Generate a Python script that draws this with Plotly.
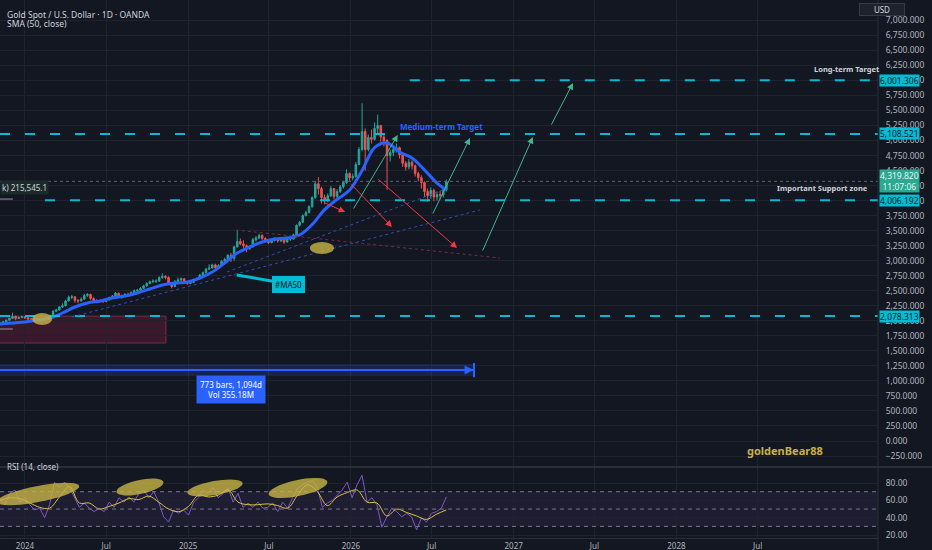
import numpy as np
import pandas as pd
import plotly.graph_objects as go

# weekly candles (Nov 2023 -> Aug 2026)
start_date = '2023-11-06'
first_open = 1950
closes = [1963, 1985, 2010, 2040, 2075, 2040, 2055, 2065, 2050, 2030,
          2025, 2040, 2020, 2030, 2025, 2045, 2090, 2160, 2180, 2230,
          2250, 2330, 2390, 2400, 2340, 2330, 2360, 2420, 2440, 2370,
          2330, 2320, 2330, 2320, 2350, 2390, 2410, 2460, 2400, 2420,
          2440, 2430, 2470, 2500, 2510, 2540, 2580, 2620, 2650, 2660,
          2660, 2720, 2740, 2720, 2620, 2570, 2650, 2680, 2700, 2650,
          2620, 2640, 2690, 2700, 2760, 2800, 2860, 2880, 2930, 2880,
          2920, 2990, 3020, 3090, 3040, 3230, 3320, 3280, 3250, 3200,
          3230, 3350, 3380, 3420, 3370, 3330, 3300, 3340, 3360, 3330,
          3350, 3310, 3380, 3360, 3430, 3590, 3640, 3750, 3800, 3900,
          4050, 4280, 4200, 4050, 4000, 4080, 4200, 4070, 4150, 4230,
          4300, 4450, 4380, 4400, 4600, 4850, 5150, 4850, 5050, 5020,
          5200, 5250, 5060, 5000, 4750, 4800, 4850, 4880, 4760, 4620,
          4560, 4640, 4580, 4450, 4380, 4300, 4150, 4080, 4170, 4060,
          4100, 4090, 4180, 4320]
highs = [1975, 2000, 2020, 2050, 2135, 2085, 2070, 2085, 2080, 2060,
         2045, 2055, 2050, 2045, 2045, 2060, 2100, 2175, 2200, 2245,
         2290, 2350, 2420, 2430, 2410, 2360, 2390, 2450, 2460, 2450,
         2390, 2360, 2350, 2345, 2370, 2400, 2430, 2480, 2470, 2440,
         2460, 2470, 2490, 2520, 2530, 2560, 2600, 2640, 2670, 2690,
         2690, 2740, 2790, 2760, 2740, 2640, 2680, 2720, 2720, 2710,
         2660, 2660, 2700, 2720, 2780, 2820, 2880, 2940, 2950, 2950,
         2940, 3010, 3050, 3110, 3130, 3250, 3500, 3370, 3340, 3270,
         3260, 3380, 3410, 3450, 3440, 3390, 3350, 3370, 3390, 3380,
         3380, 3370, 3400, 3400, 3450, 3600, 3660, 3770, 3830, 3920,
         4070, 4330, 4390, 4230, 4100, 4120, 4240, 4210, 4190, 4260,
         4330, 4520, 4470, 4450, 4640, 4890, 5620, 5200, 5100, 5180,
         5300, 5430, 5260, 5100, 5020, 4850, 4920, 4950, 4900, 4790,
         4660, 4690, 4670, 4600, 4480, 4420, 4320, 4200, 4220, 4200,
         4150, 4160, 4220, 4350]
lows = [1940, 1955, 1978, 2000, 2030, 2010, 2030, 2045, 2030, 2015,
        2005, 2015, 1995, 2010, 2010, 2015, 2035, 2080, 2145, 2165,
        2215, 2240, 2320, 2360, 2300, 2290, 2320, 2350, 2400, 2350,
        2300, 2295, 2300, 2295, 2310, 2340, 2380, 2400, 2380, 2370,
        2400, 2400, 2420, 2460, 2480, 2490, 2530, 2570, 2610, 2630,
        2630, 2650, 2700, 2690, 2600, 2540, 2560, 2630, 2660, 2620,
        2600, 2610, 2630, 2670, 2690, 2750, 2790, 2850, 2870, 2850,
        2870, 2910, 2980, 3010, 2980, 3000, 3220, 3260, 3200, 3140,
        3180, 3220, 3320, 3360, 3340, 3300, 3280, 3290, 3320, 3300,
        3310, 3280, 3300, 3330, 3350, 3420, 3570, 3630, 3740, 3790,
        3880, 4030, 4100, 3950, 3940, 3970, 4060, 4020, 4040, 4130,
        4200, 4280, 4330, 4340, 4380, 4590, 4820, 4500, 4820, 4950,
        5000, 5100, 4980, 4900, 4180, 4650, 4740, 4800, 4700, 4560,
        4500, 4520, 4520, 4400, 4320, 4200, 4060, 3980, 4030, 3990,
        4000, 4020, 4050, 4150]

# SMA(50) read every 4 weeks, last point on the last candle
sma50 = [1947, 1963, 1980, 2013, 2046, 2130, 2230, 2296, 2330, 2380,
         2413, 2463, 2530, 2596, 2629, 2646, 2712, 2812, 2962, 3128,
         3228, 3311, 3361, 3378, 3428, 3600, 3850, 4020, 4176, 4500,
         4880, 4960, 4810, 4710, 4510, 4290, 4176]

# RSI(14) and its moving average, evenly spaced over the same period
rsi_values = [62, 55, 68, 72, 58, 63, 55, 49, 51, 40,
              55, 81, 75, 81, 75, 64, 52, 57, 51, 47,
              51, 47, 58, 52, 63, 58, 64, 58, 68, 72,
              63, 70, 58, 41, 35, 49, 45, 49, 43, 57,
              63, 72, 68, 75, 63, 68, 74, 58, 68, 52,
              57, 52, 58, 51, 52, 57, 47, 58, 51, 63,
              74, 78, 81, 83, 74, 52, 57, 60, 66, 72,
              81, 63, 78, 89, 58, 63, 55, 29, 41, 51,
              47, 41, 45, 41, 26, 40, 35, 45, 47, 51, 64]
rsi_ma = [60, 63, 62, 57, 52, 51, 64, 76, 57, 57,
          50, 53, 57, 62, 61, 65, 58, 50, 47, 53,
          66, 64, 66, 72, 58, 55, 55, 56, 54, 51,
          66, 78, 70, 54, 64, 69, 72, 58, 57, 42,
          50, 46, 42, 38, 44, 49]

levels = [6001.306, 5108.521, 4006.192, 2078.313]
level_starts = ['2026-05-13', '2023-11-06', '2024-02-15', '2023-11-06']
last_price = 4319.820
last_time = '11:07:06'

x_ticks = ['2024-01-01', '2024-07-01', '2025-01-01', '2025-07-01', '2026-01-01',
           '2026-07-01', '2027-01-01', '2027-07-01', '2028-01-01', '2028-07-01']
x_labels = ['2024', 'Jul', '2025', 'Jul', '2026', 'Jul', '2027', 'Jul', '2028', 'Jul']
price_ticks = list(range(-250, 7001, 250))
rsi_ticks = [20, 40, 60, 80]

x_range = ['2023-11-06', '2029-03-28']
bg = '#131722'
grid = '#1f232e'
axis_line = '#2a2e39'
cyan = '#00bcd4'
up = '#26a69a'
down = '#ef5350'
arrow_green = '#3fb68b'
arrow_red = '#f23645'

candle_dates = pd.date_range(start_date, periods=len(closes), freq='7D')
opens = [first_open] + closes[:-1]
sma_dates = list(pd.date_range(start_date, periods=len(sma50) - 1, freq='28D')) + [candle_dates[-1]]
rsi_dates = pd.date_range(start_date, candle_dates[-1], periods=len(rsi_values))
rsi_ma_dates = pd.date_range(start_date, candle_dates[-1], periods=len(rsi_ma))

fig = go.Figure()
fig.add_trace(go.Candlestick(
    x=candle_dates, open=opens, high=highs, low=lows, close=closes,
    increasing=dict(line=dict(color=up, width=1), fillcolor=up),
    decreasing=dict(line=dict(color=down, width=1), fillcolor=down),
    whiskerwidth=0, xaxis='x', yaxis='y', hoverinfo='skip'))
fig.add_trace(go.Scatter(x=sma_dates, y=sma50, mode='lines', xaxis='x', yaxis='y',
                         line=dict(color='#2962ff', width=3, shape='spline')))
fig.add_trace(go.Scatter(x=rsi_dates, y=rsi_values, mode='lines', xaxis='x2', yaxis='y2',
                         line=dict(color='#7e57c2', width=1)))
fig.add_trace(go.Scatter(x=rsi_ma_dates, y=rsi_ma, mode='lines', xaxis='x2', yaxis='y2',
                         line=dict(color='#d9c63a', width=1, shape='spline')))

shapes = []
annotations = []

# key levels (cyan dashed) with price tags on the axis
for lvl, x0 in zip(levels, level_starts):
    shapes.append(dict(type='line', xref='x', yref='y', x0=x0, x1=x_range[1], y0=lvl, y1=lvl,
                       line=dict(color=cyan, width=2, dash='10px,15px')))
    annotations.append(dict(xref='paper', yref='y', x=1, y=lvl, xanchor='left', xshift=1,
                            text=f'{lvl:,.3f}', showarrow=False, bgcolor=cyan, borderpad=0,
                            font=dict(color=bg, size=8.5)))

# current price
shapes.append(dict(type='line', xref='x', yref='y', x0=x_range[0], x1=x_range[1],
                   y0=last_price, y1=last_price, line=dict(color='#5d606b', width=1, dash='dot')))
annotations.append(dict(xref='paper', yref='y', x=1, y=last_price, xanchor='left', xshift=1,
                        text=f'{last_price:,.3f}<br>{last_time}', showarrow=False, bgcolor='#2aa892',
                        borderpad=0, font=dict(color='#e6f4f1', size=8.5)))

# trend lines
shapes.append(dict(type='line', xref='x', yref='y', x0='2024-04-15', y0=2063, x1='2026-10-17', y1=3844,
                   line=dict(color='#2f4fb0', width=1, dash='3px,3px')))
shapes.append(dict(type='line', xref='x', yref='y', x0='2025-03-29', y0=2812, x1='2026-07-26', y1=4176,
                   line=dict(color='#2f4fb0', width=1, dash='3px,3px')))
shapes.append(dict(type='line', xref='x', yref='y', x0='2025-04-18', y0=3511, x1='2026-12-01', y1=3045,
                   line=dict(color='#7a2b42', width=1, dash='3px,3px')))

# support box and measure tool
shapes.append(dict(type='rect', xref='x', yref='y', x0='2023-10-20', x1='2024-11-12', y0=1630, y1=2078,
                   fillcolor='rgba(130,30,60,0.35)', line=dict(color='#7b2d45', width=1), layer='below'))
shapes.append(dict(type='rect', xref='x', yref='y', x0='2023-10-20', x1='2026-10-02', y0=1081, y1=1281,
                   fillcolor='rgba(41,98,255,0.18)', line=dict(width=0)))
shapes.append(dict(type='line', xref='x', yref='y', x0='2023-10-20', x1='2026-10-02', y0=1181, y1=1181,
                   line=dict(color='#2962ff', width=2)))
shapes.append(dict(type='line', xref='x', yref='y', x0='2026-10-04', x1='2026-10-04', y0=1060, y1=1300,
                   line=dict(color='#2962ff', width=2)))
annotations.append(dict(xref='x', yref='y', x='2026-10-03', y=1181, ax='2026-09-05', ay=1181,
                        axref='x', ayref='y', text='', showarrow=True, arrowhead=2, arrowsize=1.2,
                        arrowwidth=1.5, arrowcolor='#2962ff'))
annotations.append(dict(xref='x', yref='y', x='2025-04-07', y=849, text='773 bars, 1,094d<br>Vol 355.18M',
                        showarrow=False, bgcolor='#2962ff', borderpad=3, font=dict(color='#ffffff', size=8)))

# gold ellipses on the price pane
for x0, x1, y0, y1 in [('2024-01-17', '2024-03-02', 1930, 2130), ('2025-10-01', '2025-11-24', 3111, 3311)]:
    shapes.append(dict(type='circle', xref='x', yref='y', x0=x0, x1=x1, y0=y0, y1=y1,
                       fillcolor='rgba(200,180,70,0.8)', line=dict(width=0)))

# forecast arrows: (tip date, tip price, tail date, tail price)
red_arrows = [('2025-12-19', 3810, '2025-10-30', 3977),
              ('2026-04-03', 3561, '2025-12-30', 4293),
              ('2026-08-27', 3211, '2026-02-28', 4376)]
green_arrows = [('2026-04-16', 5092, '2026-01-05', 3844),
                ('2026-09-25', 5042, '2026-07-02', 3760),
                ('2027-02-13', 5058, '2026-10-22', 3145),
                ('2027-05-14', 5957, '2027-03-25', 5241)]
for arrows, col in [(red_arrows, arrow_red), (green_arrows, arrow_green)]:
    for x, y, ax, ay in arrows:
        annotations.append(dict(xref='x', yref='y', x=x, y=y, ax=ax, ay=ay, axref='x', ayref='y',
                                text='', showarrow=True, arrowhead=2, arrowsize=1.3, arrowwidth=1,
                                arrowcolor=col))

# labels on the price pane
annotations.append(dict(xref='x', yref='y', x='2025-04-20', y=2762, ax='2025-08-15', ay=2612,
                        axref='x', ayref='y', text='#MA50', showarrow=True, arrowhead=0, arrowwidth=3,
                        arrowcolor=cyan, bgcolor=cyan, bordercolor=cyan, borderpad=2,
                        font=dict(color=bg, size=8)))
annotations.append(dict(xref='x', yref='y', x='2026-07-24', y=5225, text='<b>Medium-term Target</b>',
                        showarrow=False, font=dict(color='#2962ff', size=8)))
annotations.append(dict(xref='paper', yref='y', x=1.004, y=6190, xanchor='right',
                        text='<b>Long-term Target</b>', showarrow=False, font=dict(color='#d1d4dc', size=7.5)))
annotations.append(dict(xref='paper', yref='y', x=0.991, y=4210, xanchor='right',
                        text='<b>Important Support zone</b>', showarrow=False,
                        font=dict(color='#d1d4dc', size=7.5)))
annotations.append(dict(xref='paper', yref='y', x=0, y=4210, xanchor='left', text='k) 215,545.1',
                        showarrow=False, bgcolor='#1b2b2a', borderpad=1, font=dict(color='#d1d4dc', size=8)))
for yv in [4026, 1864]:
    shapes.append(dict(type='line', xref='x', yref='y', x0='2023-11-06', x1='2023-12-05', y0=yv, y1=yv,
                       line=dict(color='#9598a1', width=1)))
annotations.append(dict(xref='paper', yref='paper', x=0.94, y=0.145, text='<b>goldenBear88</b>',
                        showarrow=False, font=dict(color='#c9b14a', size=11)))

# header texts
annotations.append(dict(xref='paper', yref='paper', x=0.006, y=0.987, xanchor='left',
                        text='Gold Spot / U.S. Dollar · 1D · OANDA', showarrow=False,
                        font=dict(color='#d1d4dc', size=8.5)))
annotations.append(dict(xref='paper', yref='paper', x=0.006, y=0.971, xanchor='left',
                        text='SMA (50, close)', showarrow=False, font=dict(color='#d1d4dc', size=8.5)))
annotations.append(dict(xref='paper', yref='paper', x=0.006, y=0.119, xanchor='left',
                        text='RSI (14, close)', showarrow=False, font=dict(color='#d1d4dc', size=8)))
annotations.append(dict(xref='paper', yref='paper', x=1.0307, y=1, yanchor='top', yshift=-3,
                        text='USD', showarrow=False, bgcolor='#1e222d', bordercolor='#363a45',
                        borderwidth=1, borderpad=0, width=44, font=dict(color='#d1d4dc', size=8)))

# RSI pane: band, dashed guides and the gold highlight ellipses
shapes.append(dict(type='rect', xref='paper', yref='y2', x0=0, x1=1, y0=30, y1=70,
                   fillcolor='rgba(126,87,194,0.1)', line=dict(width=0), layer='below'))
for lvl in [70, 50, 30]:
    shapes.append(dict(type='line', xref='paper', yref='y2', x0=0, x1=1, y0=lvl, y1=lvl,
                       line=dict(color='#787b86', width=1, dash='4px,4px')))


def ellipse_path(cx, cy, a, b, deg):
    # ellipse drawn in plot pixels (878 x 538 area), returned in paper units
    t = np.linspace(0, 2 * np.pi, 41)
    r = np.radians(deg)
    px = cx + a * np.cos(t) * np.cos(r) - b * np.sin(t) * np.sin(r)
    py = cy + a * np.cos(t) * np.sin(r) + b * np.sin(t) * np.cos(r)
    pts = [f'{x / 878:.4f},{(538 - y) / 538:.4f}' for x, y in zip(px, py)]
    return 'M ' + ' L '.join(pts) + ' Z'


for cx, cy, a, b, deg in [(38, 494, 42, 8, -11), (140, 487, 24, 7, -12),
                          (215, 488, 28, 7, -10), (298, 488, 30, 8, -12)]:
    shapes.append(dict(type='path', xref='paper', yref='paper', path=ellipse_path(cx, cy, a, b, deg),
                       fillcolor='rgba(200,180,70,0.8)', line=dict(width=0)))

# pane borders
shapes.append(dict(type='line', xref='paper', yref='paper', x0=0, x1=1.0615, y0=0.132, y1=0.132,
                   line=dict(color=axis_line, width=2)))
shapes.append(dict(type='line', xref='paper', yref='paper', x0=1, x1=1, y0=-0.03, y1=1,
                   line=dict(color=axis_line, width=1)))

fig.update_layout(
    width=932, height=550, autosize=False,
    margin=dict(l=0, r=54, t=0, b=12),
    paper_bgcolor=bg, plot_bgcolor=bg,
    showlegend=False,
    font=dict(family='Noto Sans, sans-serif', color='#b2b5be', size=8),
    xaxis=dict(type='date', domain=[0, 1], anchor='y', range=x_range, tickvals=x_ticks,
               showticklabels=False, showgrid=True, gridcolor=grid, zeroline=False,
               rangeslider=dict(visible=False)),
    xaxis2=dict(type='date', domain=[0, 1], anchor='y2', range=x_range, tickvals=x_ticks,
                ticktext=x_labels, showgrid=True, gridcolor=grid, zeroline=False,
                showline=True, linecolor=axis_line, tickfont=dict(size=8, color='#b2b5be')),
    yaxis=dict(domain=[0.1338, 1], anchor='x', side='right', range=[-416, 7338],
               tickvals=price_ticks, tickformat=',.3f', showgrid=True, gridcolor=grid,
               zeroline=False, ticks='outside', ticklen=5, tickcolor='rgba(0,0,0,0)',
               tickfont=dict(size=8.5, color='#b2b5be')),
    yaxis2=dict(domain=[0, 0.13], anchor='x2', side='right', range=[16.6, 97.3],
                tickvals=rsi_ticks, tickformat='.2f', showgrid=True, gridcolor=grid,
                zeroline=False, ticks='outside', ticklen=5, tickcolor='rgba(0,0,0,0)',
                tickfont=dict(size=8.5, color='#b2b5be')),
    shapes=shapes,
    annotations=annotations,
)

# drop the browser's default page margin so the 932x550 figure fills the window
fig.write_html("out.html", config={'staticPlot': True},
               post_script="document.body.style.margin='0';document.body.style.overflow='hidden';")
